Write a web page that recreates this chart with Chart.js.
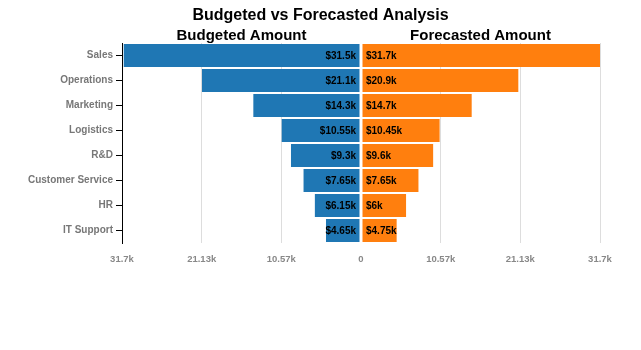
<!DOCTYPE html>
<html>
<head>
<meta charset="utf-8">
<script src="https://cdn.jsdelivr.net/npm/chart.js@4/dist/chart.umd.min.js"></script>
<style>
  html, body { margin: 0; padding: 0; background: #fff; }
  #wrap { width: 641px; height: 350px; position: relative; }
</style>
</head>
<body>
<div id="wrap"><canvas id="c"></canvas></div>
<script>
const categories = ["Sales", "Operations", "Marketing", "Logistics", "R&D", "Customer Service", "HR", "IT Support"];
const budgeted = [31.5, 21.1, 14.3, 10.55, 9.3, 7.65, 6.15, 4.65];
const forecasted = [31.7, 20.9, 14.7, 10.45, 9.6, 7.65, 6, 4.75];
const tickValues = [-31.7, -21.13, -10.57, 0, 10.57, 21.13, 31.7];
const tickLabels = ["31.7k", "21.13k", "10.57k", "0", "10.57k", "21.13k", "31.7k"];
const chartTitle = "Budgeted vs Forecasted Analysis";
const leftHeader = "Budgeted Amount";
const rightHeader = "Forecasted Amount";

const FONT = "'Liberation Sans', Arial, Helvetica, sans-serif";
Chart.defaults.font.family = FONT;

const labelPlugin = {
  id: 'labels',
  afterDraw(chart) {
    const ctx = chart.ctx;
    const xs = chart.scales.x;
    const area = chart.chartArea;
    const x0 = xs.getPixelForValue(0);
    ctx.save();
    ctx.fillStyle = '#000';
    ctx.textBaseline = 'middle';
    ctx.textAlign = 'center';
    // main title
    ctx.font = 'bold 16px ' + FONT;
    ctx.fillText(chartTitle, chart.width / 2, 16);
    // headers
    ctx.font = 'bold 15px ' + FONT;
    ctx.fillText(leftHeader, (area.left + x0) / 2, 36);
    ctx.fillText(rightHeader, (x0 + area.right) / 2, 36);
    // data labels
    ctx.font = 'bold 10px ' + FONT;
    const m0 = chart.getDatasetMeta(0), m1 = chart.getDatasetMeta(1);
    m0.data.forEach((bar, i) => {
      ctx.textAlign = 'right';
      ctx.fillText('$' + budgeted[i] + 'k', x0 - 5, bar.y + 1);
    });
    m1.data.forEach((bar, i) => {
      ctx.textAlign = 'left';
      ctx.fillText('$' + forecasted[i] + 'k', x0 + 5, bar.y + 1);
    });
    ctx.restore();
  }
};

new Chart(document.getElementById('c'), {
  type: 'bar',
  data: {
    labels: categories,
    datasets: [
      {
        label: leftHeader,
        data: budgeted.map(v => -v),
        backgroundColor: '#1f77b4',
        borderColor: '#ffffff',
        borderWidth: { top: 0, bottom: 0, left: 0, right: 1 },
        borderSkipped: false,
        barPercentage: 0.92,
        categoryPercentage: 1.0
      },
      {
        label: rightHeader,
        data: forecasted,
        backgroundColor: '#ff7f0e',
        borderColor: '#ffffff',
        borderWidth: { top: 0, bottom: 0, left: 1, right: 0 },
        borderSkipped: false,
        barPercentage: 0.92,
        categoryPercentage: 1.0
      }
    ]
  },
  options: {
    indexAxis: 'y',
    responsive: true,
    maintainAspectRatio: false,
    animation: false,
    layout: { padding: { left: 22, right: 41, top: 43, bottom: 82 } },
    plugins: {
      legend: { display: false },
      tooltip: { enabled: false },
      title: { display: false }
    },
    scales: {
      x: {
        stacked: true,
        min: tickValues[0],
        max: tickValues[tickValues.length - 1],
        afterBuildTicks(scale) { scale.ticks = tickValues.map(v => ({ value: v })); },
        afterFit(scale) { scale.height = 25; },
        border: { display: false },
        grid: {
          drawTicks: false,
          color: ctx => (ctx.tick && (ctx.tick.value === 0 || ctx.tick.value === tickValues[0])) ? 'rgba(0,0,0,0)' : '#dddddd',
          lineWidth: 1
        },
        ticks: {
          padding: 11,
          color: '#888',
          font: { size: 9.5, weight: 'bold' },
          maxRotation: 0,
          autoSkip: false,
          callback: (v, i) => tickLabels[i]
        }
      },
      y: {
        stacked: true,
        afterFit(scale) { scale.width = 100; },
        border: { display: true, color: '#000', width: 1 },
        grid: {
          offset: false,
          drawOnChartArea: false,
          drawTicks: true,
          tickLength: 6,
          tickColor: '#000'
        },
        ticks: {
          padding: 3,
          color: '#777',
          font: { size: 10, weight: 'bold' }
        }
      }
    }
  },
  plugins: [labelPlugin]
});
</script>
</body>
</html>
